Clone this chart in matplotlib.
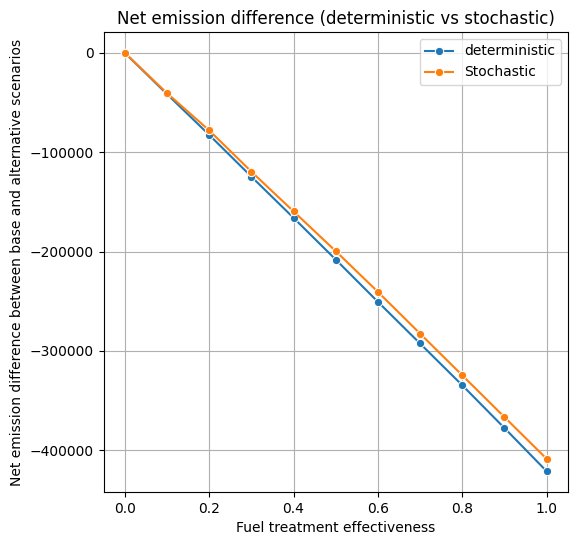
import matplotlib
matplotlib.use("Agg")
import matplotlib.pyplot as plt
import seaborn as sns

# fuel treatment effectiveness levels
effectiveness = [0.0, 0.1, 0.2, 0.3, 0.4, 0.5, 0.6, 0.7, 0.8, 0.9, 1.0]
deterministic = [0, -41500, -82500, -124500, -166000, -208000,
                 -250500, -292500, -334500, -377500, -421000]
stochastic = [0, -40500, -78000, -119500, -159500, -199500,
              -240500, -282500, -324500, -366500, -408500]

fig = plt.figure(figsize=(5.78, 5.47), dpi=100)
ax = fig.add_axes([0.1795, 0.1005, 0.8025, 0.841])
sns.lineplot(x=effectiveness, y=deterministic, marker='o', label='deterministic', ax=ax)
sns.lineplot(x=effectiveness, y=stochastic, marker='o', label='Stochastic', ax=ax)
ax.set_xlabel('Fuel treatment effectiveness')
ax.set_ylabel('Net emission difference between base and alternative scenarios')
ax.set_title('Net emission difference (deterministic vs stochastic)')
ax.grid(True)
ax.legend(loc='upper right')
fig.savefig('out.png', dpi=100)
